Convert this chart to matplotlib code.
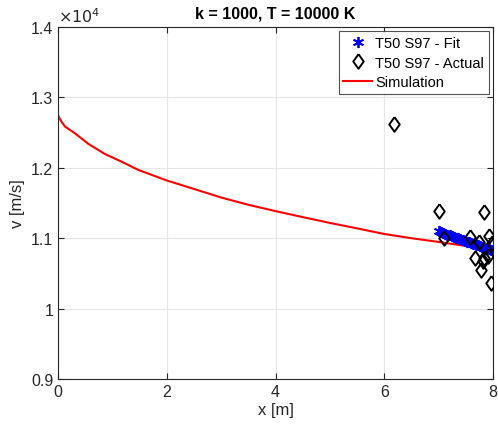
import numpy as np
import matplotlib as mpl
import matplotlib.pyplot as plt
from matplotlib.ticker import FuncFormatter

mpl.rcParams['font.family'] = ['Liberation Sans', 'DejaVu Sans']

# simulated velocity along the track
sim_x = [0.0, 0.03, 0.07, 0.13, 0.31, 0.56, 0.86, 1.17, 1.48, 2.0, 2.5, 3.0,
         3.5, 4.0, 4.5, 5.0, 5.5, 6.0, 6.5, 7.0, 7.5, 8.0]
sim_v = [12750, 12700, 12647, 12585, 12491, 12339, 12197, 12087, 11969, 11820,
         11700, 11578, 11475, 11385, 11300, 11217, 11140, 11060, 11000, 10947,
         10890, 10833]

# T50 S97 measurements
act_x = [6.17, 7.01, 7.83, 7.10, 7.58, 7.75, 7.93, 7.99, 7.66, 7.84, 7.91,
         7.77, 7.96, 7.82]
act_v = [12622, 11383, 11377, 11004, 11022, 10943, 11036, 10929, 10716, 10716,
         10752, 10549, 10360, 10682]

# T50 S97 fitted curve
fit_x = [7.00, 7.04, 7.08, 7.12, 7.16, 7.20, 7.24, 7.28, 7.32, 7.36, 7.40, 7.44,
         7.48, 7.52, 7.56, 7.60, 7.64, 7.68, 7.72, 7.76, 7.80, 7.84, 7.88, 7.92,
         7.96, 8.00]
fit_v = [11096, 11085, 11074, 11063, 11052, 11041, 11030, 11018, 11007, 10996,
         10985, 10974, 10963, 10952, 10941, 10930, 10919, 10908, 10897, 10886,
         10874, 10863, 10852, 10841, 10830, 10819]

# diamond a bit wider than matplotlib's thin 'd'
diamond = [(0, 1), (0.72, 0), (0, -1), (-0.72, 0), (0, 1)]

fig = plt.figure(figsize=(4.98, 4.35), dpi=100)
ax = fig.add_axes([0.1165, 0.1264, 0.8735, 0.8092])

ax.plot(fit_x, fit_v, linestyle='none', marker=(6, 2, 0), markersize=8,
        mew=1.3, color='#0000ff', label='T50 S97 - Fit', zorder=3)
ax.plot(act_x, act_v, linestyle='none', marker=diamond, markersize=10.5,
        mfc='none', mec='black', mew=1.4, label='T50 S97 - Actual', zorder=4)
ax.plot(sim_x, sim_v, color='red', lw=1.5, label='Simulation', zorder=2)

ax.set_xlim(0, 8)
ax.set_ylim(9000, 14000)
ax.set_xticks([0, 2, 4, 6, 8])
ax.set_yticks(np.arange(9000, 14001, 1000))
ax.yaxis.set_major_formatter(FuncFormatter(lambda v, p: '%g' % (v / 1e4)))

ax.grid(True, color='#e6e6e6', lw=0.8)
ax.set_axisbelow(True)
ax.tick_params(direction='in', top=True, right=True, length=4,
               labelsize=11.5, colors='#262626', width=0.8)
for s in ax.spines.values():
    s.set_color('#262626')
    s.set_linewidth(0.8)

ax.text(0.0, 1.005, r'$\times 10^{4}$', transform=ax.transAxes,
        fontsize=11.5, color='#262626', ha='left', va='bottom')
ax.set_title('k = 1000, T = 10000 K', fontsize=11.5, fontweight='bold', pad=7)
ax.set_xlabel('x [m]', fontsize=12, color='#262626', labelpad=2)
ax.set_ylabel('v [m/s]', fontsize=12, color='#262626', labelpad=4)

leg = ax.legend(loc='upper right', fontsize=10.5, frameon=True, fancybox=False,
                borderpad=0.3, labelspacing=0.4, handlelength=2.0,
                handletextpad=0.2, borderaxespad=0.3)
leg.get_frame().set_edgecolor('#262626')
leg.get_frame().set_linewidth(0.8)

plt.savefig('out.png', dpi=100)
